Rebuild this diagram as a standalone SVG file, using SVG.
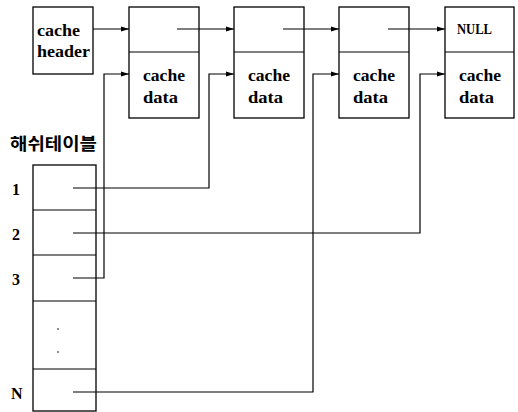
<svg xmlns="http://www.w3.org/2000/svg" width="518" height="412" viewBox="0 0 518 412">
<style>
.box{fill:#fff;stroke:#000;stroke-width:1.3}
.ln{fill:none;stroke:#000;stroke-width:1.2}
.t{font-family:"Liberation Serif",serif;font-weight:bold;font-size:17px;fill:#000}
.n{font-family:"Liberation Serif",serif;font-weight:bold;font-size:14px;fill:#000}
.r{font-family:"Liberation Serif",serif;font-weight:bold;font-size:16px;fill:#000}
.k{font-family:"Noto Sans CJK KR",sans-serif;font-weight:bold;font-size:17px;fill:#000}
</style>
<defs>
<marker id="ah" markerWidth="8" markerHeight="6" refX="8" refY="3" orient="auto" markerUnits="userSpaceOnUse">
<path d="M0,0.5 L8,3 L0,5.5 Z" fill="#000"/>
</marker>
</defs>
<g id="header">
<rect class="box" x="33" y="7" width="60" height="67"/>
<text class="t" x="37" y="36" textLength="43" lengthAdjust="spacingAndGlyphs">cache</text>
<text class="t" x="37" y="57" textLength="53" lengthAdjust="spacingAndGlyphs">header</text>
</g>
<g id="node1">
<rect class="box" x="129" y="7" width="70" height="111"/>
<line class="ln" x1="129" y1="52" x2="199" y2="52"/>
<text class="t" x="143" y="81" textLength="42" lengthAdjust="spacingAndGlyphs">cache</text>
<text class="t" x="143" y="103" textLength="35" lengthAdjust="spacingAndGlyphs">data</text>
</g>
<g id="node2">
<rect class="box" x="234" y="7" width="70" height="111"/>
<line class="ln" x1="234" y1="52" x2="304" y2="52"/>
<text class="t" x="248" y="81" textLength="42" lengthAdjust="spacingAndGlyphs">cache</text>
<text class="t" x="248" y="103" textLength="35" lengthAdjust="spacingAndGlyphs">data</text>
</g>
<g id="node3">
<rect class="box" x="339" y="7" width="70" height="111"/>
<line class="ln" x1="339" y1="52" x2="409" y2="52"/>
<text class="t" x="353" y="81" textLength="42" lengthAdjust="spacingAndGlyphs">cache</text>
<text class="t" x="353" y="103" textLength="35" lengthAdjust="spacingAndGlyphs">data</text>
</g>
<g id="node4">
<rect class="box" x="445" y="7" width="69" height="111"/>
<line class="ln" x1="445" y1="52" x2="514" y2="52"/>
<text class="n" x="457" y="34" textLength="35" lengthAdjust="spacingAndGlyphs">NULL</text>
<text class="t" x="459" y="81" textLength="42" lengthAdjust="spacingAndGlyphs">cache</text>
<text class="t" x="459" y="103" textLength="35" lengthAdjust="spacingAndGlyphs">data</text>
</g>
<g id="hashtable">
<text class="k" x="10" y="150" textLength="87" lengthAdjust="spacingAndGlyphs">해쉬테이블</text>
<rect class="box" x="33" y="165" width="63" height="246"/>
<line class="ln" x1="33" y1="210" x2="96" y2="210"/>
<line class="ln" x1="33" y1="255" x2="96" y2="255"/>
<line class="ln" x1="33" y1="301" x2="96" y2="301"/>
<line class="ln" x1="33" y1="369" x2="96" y2="369"/>
<text class="r" x="12" y="195">1</text>
<text class="r" x="12" y="240">2</text>
<text class="r" x="12" y="285">3</text>
<text class="r" x="11" y="399">N</text>
<circle cx="58" cy="329" r="0.8" fill="#000"/>
<circle cx="58" cy="352" r="0.8" fill="#000"/>
</g>
<g id="connectors">
<line class="ln" x1="93" y1="29" x2="129" y2="29" marker-end="url(#ah)"/>
<line class="ln" x1="177" y1="29" x2="234" y2="29" marker-end="url(#ah)"/>
<line class="ln" x1="283" y1="29" x2="339" y2="29" marker-end="url(#ah)"/>
<line class="ln" x1="388" y1="29" x2="445" y2="29" marker-end="url(#ah)"/>
<polyline class="ln" points="73,278 104,278 104,74 129,74" marker-end="url(#ah)"/>
<polyline class="ln" points="73,188 209,188 209,74 234,74" marker-end="url(#ah)"/>
<polyline class="ln" points="73,392 313,392 313,74 339,74" marker-end="url(#ah)"/>
<polyline class="ln" points="73,233 420,233 420,74 445,74" marker-end="url(#ah)"/>
</g>
</svg>
